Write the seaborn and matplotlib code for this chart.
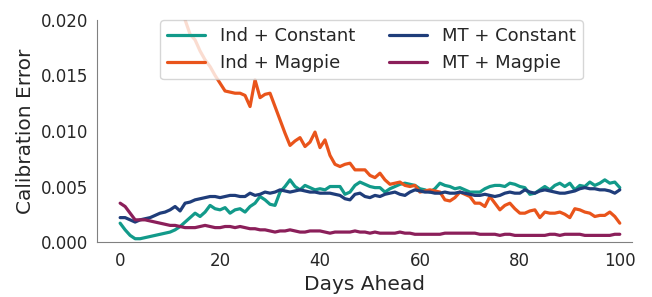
import numpy as np
import pandas as pd
import matplotlib
matplotlib.use("Agg")
import matplotlib.pyplot as plt
import seaborn as sns

# Calibration error per forecast horizon
days = list(range(101))

ind_constant = [
    0.0017, 0.0011, 0.0006, 0.0003, 0.0003, 0.0004, 0.0005, 0.0006, 0.0007, 0.0008,
    0.0009, 0.0011, 0.0014, 0.0018, 0.0022, 0.0026, 0.0023, 0.0027, 0.0033, 0.0030,
    0.0029, 0.0031, 0.0026, 0.0029, 0.0030, 0.0027, 0.0032, 0.0035, 0.0041, 0.0038,
    0.0034, 0.0033, 0.0045, 0.0050, 0.0056, 0.0050, 0.0047, 0.0051, 0.0049, 0.0047,
    0.0048, 0.0047, 0.0050, 0.0050, 0.0050, 0.0043, 0.0045, 0.0051, 0.0054, 0.0052,
    0.0050, 0.0049, 0.0049, 0.0045, 0.0048, 0.0050, 0.0052, 0.0053, 0.0052, 0.0051,
    0.0048, 0.0047, 0.0045, 0.0048, 0.0053, 0.0051, 0.0050, 0.0048, 0.0049, 0.0047,
    0.0045, 0.0045, 0.0045, 0.0048, 0.0050, 0.0051, 0.0051, 0.0050, 0.0053, 0.0052,
    0.0050, 0.0049, 0.0043, 0.0044, 0.0047, 0.0050, 0.0047, 0.0051, 0.0053, 0.0050,
    0.0053, 0.0047, 0.0051, 0.0050, 0.0054, 0.0051, 0.0053, 0.0056, 0.0053, 0.0054,
    0.0049,
]

ind_magpie = [
    0.0310, 0.0302, 0.0296, 0.0285, 0.0279, 0.0270, 0.0262, 0.0255, 0.0246, 0.0240,
    0.0231, 0.0224, 0.0216, 0.0200, 0.0187, 0.0182, 0.0172, 0.0164, 0.0158, 0.0150,
    0.0143, 0.0136, 0.0135, 0.0134, 0.0134, 0.0132, 0.0122, 0.0146, 0.0130, 0.0133,
    0.0134, 0.0122, 0.0110, 0.0098, 0.0087, 0.0091, 0.0094, 0.0086, 0.0090, 0.0099,
    0.0085, 0.0092, 0.0078, 0.0070, 0.0068, 0.0070, 0.0071, 0.0065, 0.0065, 0.0065,
    0.0060, 0.0058, 0.0062, 0.0056, 0.0052, 0.0053, 0.0054, 0.0051, 0.0050, 0.0051,
    0.0045, 0.0046, 0.0047, 0.0046, 0.0045, 0.0038, 0.0037, 0.0040, 0.0045, 0.0043,
    0.0041, 0.0035, 0.0035, 0.0032, 0.0041, 0.0035, 0.0029, 0.0033, 0.0035, 0.0030,
    0.0026, 0.0026, 0.0028, 0.0029, 0.0022, 0.0027, 0.0026, 0.0026, 0.0027, 0.0025,
    0.0022, 0.0030, 0.0029, 0.0027, 0.0026, 0.0023, 0.0024, 0.0024, 0.0027, 0.0023,
    0.0017,
]

mt_constant = [
    0.0022, 0.0022, 0.0020, 0.0018, 0.0020, 0.0021, 0.0022, 0.0024, 0.0026, 0.0027,
    0.0029, 0.0032, 0.0028, 0.0035, 0.0036, 0.0038, 0.0039, 0.0040, 0.0041, 0.0041,
    0.0040, 0.0041, 0.0042, 0.0042, 0.0041, 0.0041, 0.0044, 0.0042, 0.0043, 0.0045,
    0.0044, 0.0045, 0.0047, 0.0046, 0.0045, 0.0046, 0.0047, 0.0046, 0.0045, 0.0045,
    0.0044, 0.0044, 0.0044, 0.0043, 0.0042, 0.0039, 0.0038, 0.0043, 0.0044, 0.0041,
    0.0040, 0.0042, 0.0041, 0.0043, 0.0044, 0.0045, 0.0043, 0.0042, 0.0045, 0.0047,
    0.0046, 0.0045, 0.0045, 0.0044, 0.0044, 0.0045, 0.0044, 0.0044, 0.0045, 0.0044,
    0.0043, 0.0042, 0.0042, 0.0043, 0.0042, 0.0041, 0.0042, 0.0044, 0.0045, 0.0044,
    0.0044, 0.0047, 0.0045, 0.0044, 0.0046, 0.0047, 0.0046, 0.0045, 0.0044, 0.0044,
    0.0045, 0.0046, 0.0048, 0.0049, 0.0048, 0.0048, 0.0047, 0.0047, 0.0046, 0.0044,
    0.0047,
]

mt_magpie = [
    0.0035, 0.0032, 0.0026, 0.0020, 0.0020, 0.0020, 0.0019, 0.0018, 0.0017, 0.0016,
    0.0015, 0.0015, 0.0014, 0.0013, 0.0013, 0.0013, 0.0014, 0.0015, 0.0014, 0.0013,
    0.0013, 0.0014, 0.0014, 0.0013, 0.0014, 0.0013, 0.0012, 0.0012, 0.0011, 0.0011,
    0.0010, 0.0009, 0.0010, 0.0010, 0.0011, 0.0010, 0.0009, 0.0009, 0.0010, 0.0010,
    0.0010, 0.0009, 0.0008, 0.0009, 0.0009, 0.0009, 0.0009, 0.0010, 0.0009, 0.0009,
    0.0008, 0.0009, 0.0008, 0.0008, 0.0008, 0.0008, 0.0009, 0.0008, 0.0008, 0.0007,
    0.0007, 0.0007, 0.0007, 0.0007, 0.0007, 0.0008, 0.0008, 0.0008, 0.0008, 0.0008,
    0.0008, 0.0008, 0.0007, 0.0007, 0.0007, 0.0007, 0.0006, 0.0007, 0.0007, 0.0006,
    0.0006, 0.0006, 0.0006, 0.0006, 0.0006, 0.0006, 0.0007, 0.0007, 0.0006, 0.0007,
    0.0007, 0.0007, 0.0007, 0.0006, 0.0006, 0.0006, 0.0006, 0.0006, 0.0006, 0.0007,
    0.0007,
]

methods = ["Ind + Constant", "Ind + Magpie", "MT + Constant", "MT + Magpie"]
colors = ["#129A8A", "#E9541B", "#1F3D7A", "#8B1F5A"]

df = pd.concat([
    pd.DataFrame({"Days Ahead": days, "Calibration Error": vals, "Method": name})
    for name, vals in zip(methods, [ind_constant, ind_magpie, mt_constant, mt_magpie])
])

sns.set_style("white", {"axes.edgecolor": "0.5"})

fig, ax = plt.subplots(figsize=(6.52, 2.97), dpi=100)
fig.subplots_adjust(left=0.149, right=0.969, top=0.933, bottom=0.185)

sns.lineplot(data=df, x="Days Ahead", y="Calibration Error", hue="Method",
             hue_order=methods, palette=colors, linewidth=2.3, ax=ax)

ax.set_xlim(-4.6, 102.4)
ax.set_ylim(0, 0.020)
ax.set_yticks([0.0, 0.005, 0.010, 0.015, 0.020])
ax.set_yticklabels(["0.000", "0.005", "0.010", "0.015", "0.020"])
ax.tick_params(labelsize=12, colors="0.15")
ax.tick_params(axis="y", pad=3)
ax.set_xlabel("Days Ahead", fontsize=14.5, color="0.15")
ax.set_ylabel("Calibration Error", fontsize=14.5, color="0.15")
sns.despine(ax=ax)

leg = ax.legend(loc="upper center", ncol=2, fontsize=13, frameon=True,
                handlelength=2.1, columnspacing=1.9, borderaxespad=0.0,
                bbox_to_anchor=(0.513, 1.0))
for line in leg.get_lines():
    line.set_linewidth(2.3)

fig.savefig("out.png", dpi=100)
